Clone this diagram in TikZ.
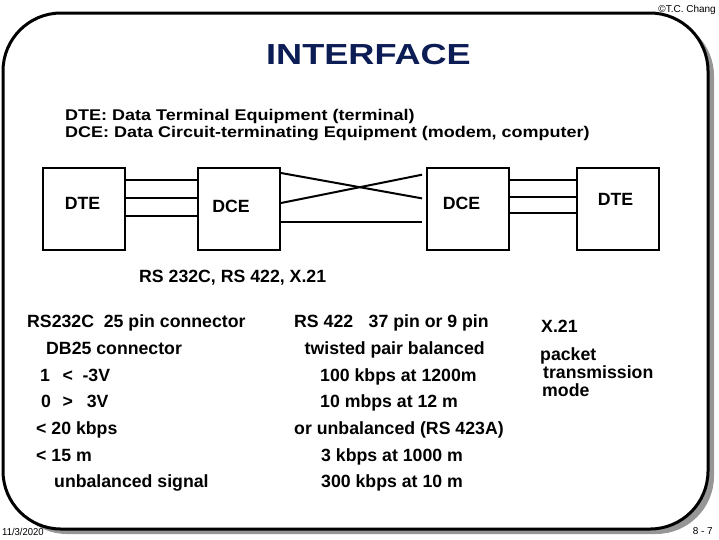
\documentclass[tikz,border=0pt]{standalone}
\usepackage{fontspec}
\setmainfont{Liberation Sans}
\usepackage{graphicx}
\definecolor{navy}{RGB}{12,28,84}
\definecolor{shadowgray}{RGB}{150,150,150}
\begin{document}
\begin{tikzpicture}[x=1pt,y=-1pt,
  box/.style={draw, line width=2pt, minimum width=82pt, minimum height=82pt, inner sep=0pt},
  wire/.style={line width=2pt},
  body/.style={anchor=base west, inner sep=0pt, font=\fontsize{17.7}{20}\selectfont\bfseries},
  lbl/.style={anchor=base, inner sep=0pt, font=\fontsize{17.7}{20}\selectfont\bfseries},
  small/.style={inner sep=0pt, font=\fontsize{10}{12}\selectfont}]
\useasboundingbox (0,0) rectangle (719,539);
% frame with shadow
\fill[shadowgray, rounded corners=58pt] (9,18) rectangle (714,534);
\draw[line width=3pt, fill=white, rounded corners=58pt] (3,13) rectangle (708,529);
% title and small texts
\node[anchor=base, inner sep=0pt, text=navy, font=\fontsize{29}{32}\selectfont\bfseries] (title) at (368.5,64) {\scalebox{1.245}[1]{INTERFACE}};
\node[small, anchor=base east] (copy) at (716,12) {©T.C. Chang};
\node[small, anchor=base west] (date) at (2,535) {\scalebox{0.95}[1]{11/3/2020}};
\node[small, anchor=base east] (page) at (713,534) {8 - 7};
% definitions
\node[anchor=base west, inner sep=0pt, font=\fontsize{15.5}{17}\selectfont\bfseries] (d1) at (65,120) {\scalebox{1.16}[1]{DTE: Data Terminal Equipment (terminal)}};
\node[anchor=base west, inner sep=0pt, font=\fontsize{15.5}{17}\selectfont\bfseries] (d2) at (65,137) {\scalebox{1.16}[1]{DCE: Data Circuit-terminating Equipment (modem, computer)}};
% boxes
\node[box] (b1) at (84,209) {};
\node[box] (b2) at (239,209) {};
\node[box] (b3) at (467.5,209) {};
\node[box] (b4) at (617.5,209) {};
\node[lbl] (l1) at (82.5,209) {DTE};
\node[lbl] (l2) at (231,212) {DCE};
\node[lbl] (l3) at (461.5,209) {DCE};
\node[lbl] (l4) at (615.5,205.5) {DTE};
% wires
\draw[wire] (b1.east |- 0,180) -- (b2.west |- 0,180);
\draw[wire] (b1.east |- 0,198) -- (b2.west |- 0,198);
\draw[wire] (b1.east |- 0,216) -- (b2.west |- 0,216);
\draw[wire, shorten >=3.5pt] (b2.east |- 0,173) -- (b3.west |- 0,199);
\draw[wire, shorten >=3.5pt] (b2.east |- 0,203) -- (b3.west |- 0,174);
\draw[wire, shorten >=3.5pt] (b2.east |- 0,222) -- (b3.west |- 0,222);
\draw[wire] (b3.east |- 0,180) -- (b4.west |- 0,180);
\draw[wire] (b3.east |- 0,197) -- (b4.west |- 0,197);
\draw[wire] (b3.east |- 0,213) -- (b4.west |- 0,213);
\node[body] (std) at (139,282) {RS 232C, RS 422, X.21};
% column 1
\node[body] (a1) at (27,327.5) {RS232C\hspace*{9.8pt}25 pin connector};
\node[body] (a2) at (46,354) {DB25 connector};
\node[body] (a3) at (40,381) {1\hspace*{12.6pt}<\hspace*{9.6pt}-3V};
\node[body] (a4) at (41,407.5) {0\hspace*{11.6pt}>\hspace*{13.9pt}3V};
\node[body] (a5) at (36,434) {< 20 kbps};
\node[body] (a6) at (36,461) {< 15 m};
\node[body] (a7) at (54,487.5) {unbalanced signal};
% column 2
\node[body] (c1) at (294,327.5) {RS 422\hspace*{15.5pt}37 pin or 9 pin};
\node[body] (c2) at (304.5,354) {twisted pair balanced};
\node[body] (c3) at (320,381) {100 kbps at 1200m};
\node[body] (c4) at (320,407.5) {10 mbps at 12 m};
\node[body] (c5) at (294,434) {or unbalanced (RS 423A)};
\node[body] (c6) at (321,461) {3 kbps at 1000 m};
\node[body] (c7) at (321,487.5) {300 kbps at 10 m};
% column 3
\node[body] (x1) at (541,332) {X.21};
\node[body] (x2) at (540,360) {packet};
\node[body] (x3) at (543,378) {transmission};
\node[body] (x4) at (542,396) {mode};
\end{tikzpicture}
\end{document}
